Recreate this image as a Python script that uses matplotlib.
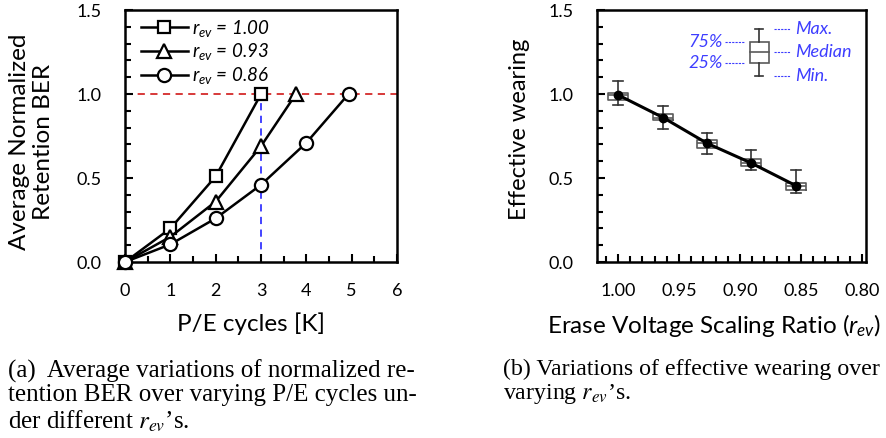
import matplotlib
matplotlib.use("Agg")
import matplotlib.pyplot as plt
from matplotlib.lines import Line2D
from matplotlib.ticker import MultipleLocator

plt.rcParams['font.family'] = ['Lato', 'DejaVu Sans']
plt.rcParams['mathtext.fontset'] = 'custom'
plt.rcParams['mathtext.rm'] = 'Lato'
plt.rcParams['mathtext.it'] = 'Lato:italic'

# ---- data (a) ----
pe_100 = [0, 1, 2, 3]
ber_100 = [0.0, 0.20, 0.51, 1.0]
pe_093 = [0, 1, 2, 3, 3.77]
ber_093 = [0.0, 0.15, 0.36, 0.69, 1.0]
pe_086 = [0, 1, 2, 3, 4, 4.93]
ber_086 = [0.0, 0.105, 0.26, 0.46, 0.71, 1.0]
series_labels = ['1.00', '0.93', '0.86']
x_ticks_a = [0, 1, 2, 3, 4, 5, 6]
y_ticks = [0.0, 0.5, 1.0, 1.5]

# ---- data (b) ----
r_ev = [1.00, 0.963, 0.927, 0.891, 0.854]
w_med = [0.995, 0.86, 0.707, 0.59, 0.454]
w_q1 = [0.964, 0.843, 0.679, 0.571, 0.427]
w_q3 = [1.004, 0.881, 0.728, 0.615, 0.472]
w_min = [0.933, 0.794, 0.641, 0.546, 0.409]
w_max = [1.077, 0.927, 0.768, 0.669, 0.546]
x_ticks_b = [1.00, 0.95, 0.90, 0.85, 0.80]

fig = plt.figure(figsize=(8.87, 4.38), dpi=100)
ax1 = fig.add_axes([0.141, 0.4018, 0.3066, 0.5752])
ax2 = fig.add_axes([0.673, 0.4018, 0.3033, 0.5752])

tick_fs = 13
xlabel_fs = 17.5

# ---------- (a) ----------
ax1.axhline(1.0, color='#d42a2a', ls=(0, (4, 3)), lw=1.3, zorder=1)
ax1.plot([3, 3], [0, 1.0], color='#3535ff', ls=(0, (4, 3)), lw=1.3, zorder=1)
mk = dict(color='black', lw=1.8, mfc='white', mec='black', mew=1.6, zorder=3, clip_on=False)
ms = {'s': 8.2, '^': 9.5, 'o': 9.5}
ax1.plot(pe_100, ber_100, marker='s', markersize=ms['s'], **mk)
ax1.plot(pe_093, ber_093, marker='^', markersize=ms['^'], **mk)
ax1.plot(pe_086, ber_086, marker='o', markersize=ms['o'], **mk)
ax1.set_xlim(0, 6)
ax1.set_ylim(0, 1.5)
ax1.set_xticks(x_ticks_a)
ax1.set_yticks(y_ticks)
ax1.set_yticklabels([f'{v:.1f}' for v in y_ticks])
ax1.xaxis.set_minor_locator(MultipleLocator(0.5))
ax1.yaxis.set_minor_locator(MultipleLocator(0.1))
ax1.set_xlabel('P/E cycles [K]', fontsize=xlabel_fs)
ax1.xaxis.set_label_coords(0.463, -0.198)
ax1.xaxis.label.set_va('top')
ax1.set_ylabel('Average Normalized\nRetention BER', fontsize=17.5, linespacing=1.2)
ax1.yaxis.set_label_coords(-0.26, 0.476)
handles = [Line2D([], [], marker=m, markersize=ms[m], **mk) for m in ['s', '^', 'o']]
leg = ax1.legend(handles, [r'$r_{ev}$ = ' + s for s in series_labels], loc='upper left',
                 frameon=False, prop=dict(style='italic', size=13.5), handlelength=2.5,
                 handletextpad=0.25, labelspacing=0.15, borderaxespad=0.0,
                 bbox_to_anchor=(0.03, 1.0))

# ---------- (b) ----------
stats = []
for i in range(len(r_ev)):
    stats.append(dict(med=w_med[i], q1=w_q1[i], q3=w_q3[i], whislo=w_min[i], whishi=w_max[i], fliers=[]))
gray = '#5a5a5a'
ax2.bxp(stats, positions=r_ev, widths=0.016, showfliers=False, manage_ticks=False,
        boxprops=dict(color=gray, lw=1.2), medianprops=dict(color=gray, lw=1.2),
        whiskerprops=dict(color='#333333', lw=1.2), capprops=dict(color='#333333', lw=1.2),
        capwidths=0.008)
ax2.plot(r_ev, w_med, color='black', lw=2.2, marker='o', markersize=6, zorder=5)
ax2.set_xlim(1.0172, 0.7967)
ax2.set_ylim(0, 1.5)
ax2.set_xticks(x_ticks_b)
ax2.set_xticklabels([f'{v:.2f}' for v in x_ticks_b])
ax2.set_yticks(y_ticks)
ax2.set_yticklabels([f'{v:.1f}' for v in y_ticks])
ax2.xaxis.set_minor_locator(MultipleLocator(0.01))
ax2.yaxis.set_minor_locator(MultipleLocator(0.1))
ax2.set_xlabel(r'Erase Voltage Scaling Ratio ($r_{ev}$)', fontsize=xlabel_fs)
ax2.xaxis.set_label_coords(0.437, -0.198)
ax2.xaxis.label.set_va('top')
ax2.set_ylabel('Effective wearing', fontsize=17)
ax2.yaxis.set_label_coords(-0.25, 0.528)

# box legend (axes fraction)
T = ax2.transAxes
bc = 0.604
bw = 0.035
ax2.add_patch(plt.Rectangle((bc - bw, 0.790), 2 * bw, 0.873 - 0.790, transform=T,
                            fill=False, ec=gray, lw=1.2))
ax2.plot([bc - bw, bc + bw], [0.833, 0.833], transform=T, color=gray, lw=1.2)
ax2.plot([bc, bc], [0.873, 0.925], transform=T, color='#333333', lw=1.2)
ax2.plot([bc, bc], [0.790, 0.738], transform=T, color='#333333', lw=1.2)
ax2.plot([bc - 0.015, bc + 0.015], [0.925, 0.925], transform=T, color='#333333', lw=1.2)
ax2.plot([bc - 0.015, bc + 0.015], [0.738, 0.738], transform=T, color='#333333', lw=1.2)
blue = '#3d3dff'
for yy in [0.925, 0.833, 0.738]:
    ax2.plot([0.658, 0.717], [yy, yy], transform=T, color=blue, ls=(0, (2, 1)), lw=0.8)
for yy in [0.873, 0.790]:
    ax2.plot([0.476, 0.550], [yy, yy], transform=T, color=blue, ls=(0, (2, 1)), lw=0.8)
for txt, yy in [('Max.', 0.925), ('Median', 0.833), ('Min.', 0.738)]:
    ax2.text(0.735, yy, txt, transform=T, color=blue, style='italic', fontsize=13,
             ha='left', va='center')
for txt, yy in [('75%', 0.873), ('25%', 0.790)]:
    ax2.text(0.468, yy, txt, transform=T, color=blue, style='italic', fontsize=13,
             ha='right', va='center')

for ax in (ax1, ax2):
    ax.tick_params(axis='both', which='both', direction='in', labelsize=tick_fs, width=1.5,
                   top=False, right=False)
    ax.tick_params(axis='both', which='major', length=6)
    ax.tick_params(axis='x', which='major', pad=15)
    ax.tick_params(axis='y', which='major', pad=17)
    ax.tick_params(axis='both', which='minor', length=4)
    for s in ax.spines.values():
        s.set_linewidth(1.8)

# captions
cap = dict(family='Liberation Serif', va='top', ha='left', math_fontfamily='stix',
           linespacing=1.1)
fig.text(0.009, 0.180, '(a)  Average variations of normalized re-\ntention BER over varying P/E cycles un-\nder different $r_{ev}$\u2019s.', fontsize=18, **cap)
fig.text(0.567, 0.180, '(b) Variations of effective wearing over\nvarying $r_{ev}$\u2019s.', fontsize=17.2, **cap)

fig.savefig('out.png', dpi=100)
